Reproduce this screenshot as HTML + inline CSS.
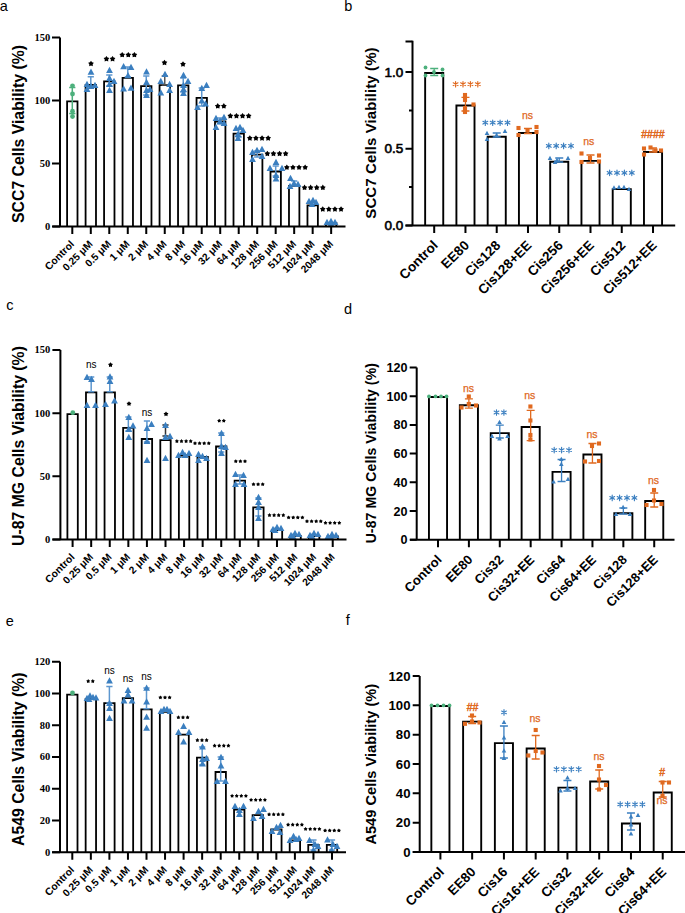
<!DOCTYPE html>
<html><head><meta charset="utf-8"><style>
html,body{margin:0;padding:0;background:#fff;width:685px;height:913px;overflow:hidden}
svg{display:block}
</style></head><body>
<svg width="685" height="913" viewBox="0 0 685 913">
<rect width="685" height="913" fill="#fff"/>
<path d="M67.10,226.50V101.30H77.50V226.50" fill="none" stroke="#000" stroke-width="1.8"/>
<path d="M85.59,226.50V84.90H95.99V226.50" fill="none" stroke="#000" stroke-width="1.8"/>
<path d="M104.08,226.50V81.40H114.48V226.50" fill="none" stroke="#000" stroke-width="1.8"/>
<path d="M122.57,226.50V77.90H132.97V226.50" fill="none" stroke="#000" stroke-width="1.8"/>
<path d="M141.06,226.50V86.10H151.46V226.50" fill="none" stroke="#000" stroke-width="1.8"/>
<path d="M159.55,226.50V85.20H169.95V226.50" fill="none" stroke="#000" stroke-width="1.8"/>
<path d="M178.04,226.50V85.30H188.44V226.50" fill="none" stroke="#000" stroke-width="1.8"/>
<path d="M196.53,226.50V97.80H206.93V226.50" fill="none" stroke="#000" stroke-width="1.8"/>
<path d="M215.02,226.50V121.50H225.42V226.50" fill="none" stroke="#000" stroke-width="1.8"/>
<path d="M233.51,226.50V133.70H243.91V226.50" fill="none" stroke="#000" stroke-width="1.8"/>
<path d="M252.00,226.50V154.70H262.40V226.50" fill="none" stroke="#000" stroke-width="1.8"/>
<path d="M270.49,226.50V171.50H280.89V226.50" fill="none" stroke="#000" stroke-width="1.8"/>
<path d="M288.98,226.50V186.00H299.38V226.50" fill="none" stroke="#000" stroke-width="1.8"/>
<path d="M307.47,226.50V205.30H317.87V226.50" fill="none" stroke="#000" stroke-width="1.8"/>
<path d="M325.96,226.50V223.00H336.36V226.50" fill="none" stroke="#000" stroke-width="1.8"/>
<path d="M72.30,87.50V113.50M69.20,87.50H75.40M69.20,113.50H75.40" stroke="#4cb07c" stroke-width="1.5" fill="none"/>
<g fill="#4cb07c"><circle cx="72.50" cy="85.80" r="2.40"/><circle cx="72.50" cy="94.00" r="2.40"/><circle cx="72.50" cy="111.20" r="2.40"/><circle cx="72.50" cy="116.50" r="2.40"/></g>
<path d="M90.79,76.80V88.00M87.69,76.80H93.89M87.69,88.00H93.89" stroke="#5d97cf" stroke-width="1.5" fill="none"/>
<g fill="#3b7fc0"><path d="M91.00,68.55L94.40,74.80L87.60,74.80Z"/><path d="M87.00,80.75L90.40,87.00L83.60,87.00Z"/><path d="M91.00,82.75L94.40,89.00L87.60,89.00Z"/><path d="M95.00,81.75L98.40,88.00L91.60,88.00Z"/><path d="M87.00,85.75L90.40,92.00L83.60,92.00Z"/></g>
<path d="M109.28,75.00V86.00M106.18,75.00H112.38M106.18,86.00H112.38" stroke="#5d97cf" stroke-width="1.5" fill="none"/>
<g fill="#3b7fc0"><path d="M109.50,66.75L112.90,73.00L106.10,73.00Z"/><path d="M109.50,74.75L112.90,81.00L106.10,81.00Z"/><path d="M114.00,77.75L117.40,84.00L110.60,84.00Z"/><path d="M109.50,80.75L112.90,87.00L106.10,87.00Z"/><path d="M109.50,86.75L112.90,93.00L106.10,93.00Z"/></g>
<path d="M127.77,67.00V77.00M124.67,67.00H130.87M124.67,77.00H130.87" stroke="#5d97cf" stroke-width="1.5" fill="none"/>
<g fill="#3b7fc0"><path d="M123.60,63.05L127.00,69.30L120.20,69.30Z"/><path d="M131.00,63.75L134.40,70.00L127.60,70.00Z"/><path d="M128.00,72.05L131.40,78.30L124.60,78.30Z"/><path d="M123.60,85.25L127.00,91.50L120.20,91.50Z"/><path d="M131.00,84.45L134.40,90.70L127.60,90.70Z"/></g>
<path d="M146.26,76.00V95.00M143.16,76.00H149.36M143.16,95.00H149.36" stroke="#5d97cf" stroke-width="1.5" fill="none"/>
<g fill="#3b7fc0"><path d="M146.50,68.25L149.90,74.50L143.10,74.50Z"/><path d="M146.50,78.75L149.90,85.00L143.10,85.00Z"/><path d="M146.50,86.75L149.90,93.00L143.10,93.00Z"/><path d="M150.00,85.75L153.40,92.00L146.60,92.00Z"/><path d="M146.50,91.75L149.90,98.00L143.10,98.00Z"/></g>
<path d="M164.75,76.00V85.00M161.65,76.00H167.85M161.65,85.00H167.85" stroke="#555" stroke-width="1.5" fill="none"/>
<g fill="#3b7fc0"><path d="M165.00,70.75L168.40,77.00L161.60,77.00Z"/><path d="M160.80,77.75L164.20,84.00L157.40,84.00Z"/><path d="M169.60,80.75L173.00,87.00L166.20,87.00Z"/><path d="M160.80,89.25L164.20,95.50L157.40,95.50Z"/><path d="M169.60,86.75L173.00,93.00L166.20,93.00Z"/></g>
<path d="M183.24,78.00V92.00M180.14,78.00H186.34M180.14,92.00H186.34" stroke="#5d97cf" stroke-width="1.5" fill="none"/>
<g fill="#3b7fc0"><path d="M183.50,71.75L186.90,78.00L180.10,78.00Z"/><path d="M188.00,77.75L191.40,84.00L184.60,84.00Z"/><path d="M183.50,81.75L186.90,88.00L180.10,88.00Z"/><path d="M183.50,85.75L186.90,92.00L180.10,92.00Z"/><path d="M183.50,89.75L186.90,96.00L180.10,96.00Z"/></g>
<path d="M201.73,88.00V106.00M198.63,88.00H204.83M198.63,106.00H204.83" stroke="#5d97cf" stroke-width="1.5" fill="none"/>
<g fill="#3b7fc0"><path d="M206.50,81.75L209.90,88.00L203.10,88.00Z"/><path d="M201.80,84.75L205.20,91.00L198.40,91.00Z"/><path d="M201.80,97.25L205.20,103.50L198.40,103.50Z"/><path d="M205.50,100.25L208.90,106.50L202.10,106.50Z"/><path d="M197.50,103.75L200.90,110.00L194.10,110.00Z"/></g>
<path d="M220.22,118.00V124.00M217.12,118.00H223.32M217.12,124.00H223.32" stroke="#5d97cf" stroke-width="1.5" fill="none"/>
<g fill="#3b7fc0"><path d="M216.00,114.75L219.40,121.00L212.60,121.00Z"/><path d="M224.00,113.75L227.40,120.00L220.60,120.00Z"/><path d="M220.00,117.75L223.40,124.00L216.60,124.00Z"/><path d="M224.00,119.75L227.40,126.00L220.60,126.00Z"/><path d="M216.00,123.75L219.40,130.00L212.60,130.00Z"/></g>
<path d="M238.71,129.00V137.00M235.61,129.00H241.81M235.61,137.00H241.81" stroke="#5d97cf" stroke-width="1.5" fill="none"/>
<g fill="#3b7fc0"><path d="M236.00,124.75L239.40,131.00L232.60,131.00Z"/><path d="M240.00,123.75L243.40,130.00L236.60,130.00Z"/><path d="M243.00,126.75L246.40,133.00L239.60,133.00Z"/><path d="M238.00,130.75L241.40,137.00L234.60,137.00Z"/><path d="M238.00,134.75L241.40,141.00L234.60,141.00Z"/></g>
<path d="M257.20,151.00V157.00M254.10,151.00H260.30M254.10,157.00H260.30" stroke="#5d97cf" stroke-width="1.5" fill="none"/>
<g fill="#3b7fc0"><path d="M252.50,148.75L255.90,155.00L249.10,155.00Z"/><path d="M257.00,146.75L260.40,153.00L253.60,153.00Z"/><path d="M262.00,145.75L265.40,152.00L258.60,152.00Z"/><path d="M262.00,152.75L265.40,159.00L258.60,159.00Z"/><path d="M252.50,155.75L255.90,162.00L249.10,162.00Z"/></g>
<path d="M275.69,166.00V176.00M272.59,166.00H278.79M272.59,176.00H278.79" stroke="#5d97cf" stroke-width="1.5" fill="none"/>
<g fill="#3b7fc0"><path d="M276.00,158.75L279.40,165.00L272.60,165.00Z"/><path d="M270.00,164.75L273.40,171.00L266.60,171.00Z"/><path d="M282.00,164.75L285.40,171.00L278.60,171.00Z"/><path d="M276.00,171.75L279.40,178.00L272.60,178.00Z"/><path d="M276.00,175.25L279.40,181.50L272.60,181.50Z"/></g>
<path d="M294.18,181.00V186.00M291.08,181.00H297.28M291.08,186.00H297.28" stroke="#5d97cf" stroke-width="1.5" fill="none"/>
<g fill="#3b7fc0"><path d="M290.50,174.75L293.90,181.00L287.10,181.00Z"/><path d="M294.00,179.75L297.40,186.00L290.60,186.00Z"/><path d="M298.00,180.75L301.40,187.00L294.60,187.00Z"/><path d="M290.00,182.75L293.40,189.00L286.60,189.00Z"/></g>
<g fill="#3b7fc0"><path d="M309.00,197.75L312.40,204.00L305.60,204.00Z"/><path d="M313.00,196.75L316.40,203.00L309.60,203.00Z"/><path d="M316.00,198.75L319.40,205.00L312.60,205.00Z"/><path d="M312.00,200.75L315.40,207.00L308.60,207.00Z"/></g>
<g fill="#3b7fc0"><path d="M327.00,218.75L330.40,225.00L323.60,225.00Z"/><path d="M331.00,217.75L334.40,224.00L327.60,224.00Z"/><path d="M335.00,218.75L338.40,225.00L331.60,225.00Z"/><path d="M331.00,220.25L334.40,226.50L327.60,226.50Z"/></g>
<path d="M60.00,37.50V226.50M52.50,226.50H345.50" stroke="#000" stroke-width="2" fill="none" stroke-linecap="butt"/>
<path d="M52.00,226.50H60.00M52.00,163.50H60.00M52.00,100.50H60.00M52.00,37.50H60.00M72.30,226.50V234.00M90.79,226.50V234.00M109.28,226.50V234.00M127.77,226.50V234.00M146.26,226.50V234.00M164.75,226.50V234.00M183.24,226.50V234.00M201.73,226.50V234.00M220.22,226.50V234.00M238.71,226.50V234.00M257.20,226.50V234.00M275.69,226.50V234.00M294.18,226.50V234.00M312.67,226.50V234.00M331.16,226.50V234.00" stroke="#000" stroke-width="2" fill="none"/>
<text x="50.20" y="229.90" text-anchor="end" style="font-family:'Liberation Serif', serif;font-size:10.5px;font-weight:bold;">0</text>
<text x="50.20" y="166.90" text-anchor="end" style="font-family:'Liberation Serif', serif;font-size:10.5px;font-weight:bold;">50</text>
<text x="50.20" y="103.90" text-anchor="end" style="font-family:'Liberation Serif', serif;font-size:10.5px;font-weight:bold;">100</text>
<text x="50.20" y="40.90" text-anchor="end" style="font-family:'Liberation Serif', serif;font-size:10.5px;font-weight:bold;">150</text>
<text transform="translate(24.00,134.00) rotate(-90)" text-anchor="middle" style="font-family:'Liberation Sans', sans-serif;font-size:15.8px;font-weight:bold;">SCC7 Cells Viability (%)</text>
<text transform="translate(74.90,244.80) rotate(-45)" text-anchor="end" style="font-family:'Liberation Sans', sans-serif;font-size:10.3px;font-weight:bold;">Control</text>
<text transform="translate(93.39,244.80) rotate(-45)" text-anchor="end" style="font-family:'Liberation Sans', sans-serif;font-size:10.3px;font-weight:bold;">0.25 μM</text>
<text transform="translate(111.88,244.80) rotate(-45)" text-anchor="end" style="font-family:'Liberation Sans', sans-serif;font-size:10.3px;font-weight:bold;">0.5 μM</text>
<text transform="translate(130.37,244.80) rotate(-45)" text-anchor="end" style="font-family:'Liberation Sans', sans-serif;font-size:10.3px;font-weight:bold;">1 μM</text>
<text transform="translate(148.86,244.80) rotate(-45)" text-anchor="end" style="font-family:'Liberation Sans', sans-serif;font-size:10.3px;font-weight:bold;">2 μM</text>
<text transform="translate(167.35,244.80) rotate(-45)" text-anchor="end" style="font-family:'Liberation Sans', sans-serif;font-size:10.3px;font-weight:bold;">4 μM</text>
<text transform="translate(185.84,244.80) rotate(-45)" text-anchor="end" style="font-family:'Liberation Sans', sans-serif;font-size:10.3px;font-weight:bold;">8 μM</text>
<text transform="translate(204.33,244.80) rotate(-45)" text-anchor="end" style="font-family:'Liberation Sans', sans-serif;font-size:10.3px;font-weight:bold;">16 μM</text>
<text transform="translate(222.82,244.80) rotate(-45)" text-anchor="end" style="font-family:'Liberation Sans', sans-serif;font-size:10.3px;font-weight:bold;">32 μM</text>
<text transform="translate(241.31,244.80) rotate(-45)" text-anchor="end" style="font-family:'Liberation Sans', sans-serif;font-size:10.3px;font-weight:bold;">64 μM</text>
<text transform="translate(259.80,244.80) rotate(-45)" text-anchor="end" style="font-family:'Liberation Sans', sans-serif;font-size:10.3px;font-weight:bold;">128 μM</text>
<text transform="translate(278.29,244.80) rotate(-45)" text-anchor="end" style="font-family:'Liberation Sans', sans-serif;font-size:10.3px;font-weight:bold;">256 μM</text>
<text transform="translate(296.78,244.80) rotate(-45)" text-anchor="end" style="font-family:'Liberation Sans', sans-serif;font-size:10.3px;font-weight:bold;">512 μM</text>
<text transform="translate(315.27,244.80) rotate(-45)" text-anchor="end" style="font-family:'Liberation Sans', sans-serif;font-size:10.3px;font-weight:bold;">1024 μM</text>
<text transform="translate(333.76,244.80) rotate(-45)" text-anchor="end" style="font-family:'Liberation Sans', sans-serif;font-size:10.3px;font-weight:bold;">2048 μM</text>
<path d="M91.00,60.70L92.06,62.24L93.85,62.77L92.71,64.26L92.76,66.13L91.00,65.50L89.24,66.13L89.29,64.26L88.15,62.77L89.94,62.24Z" fill="#000"/>
<path d="M106.45,56.00L107.51,57.54L109.30,58.07L108.16,59.56L108.21,61.43L106.45,60.80L104.69,61.43L104.74,59.56L103.60,58.07L105.39,57.54ZM112.55,56.00L113.61,57.54L115.40,58.07L114.26,59.56L114.31,61.43L112.55,60.80L110.79,61.43L110.84,59.56L109.70,58.07L111.49,57.54Z" fill="#000"/>
<path d="M122.20,51.90L123.26,53.44L125.05,53.97L123.91,55.46L123.96,57.33L122.20,56.70L120.44,57.33L120.49,55.46L119.35,53.97L121.14,53.44ZM128.30,51.90L129.36,53.44L131.15,53.97L130.01,55.46L130.06,57.33L128.30,56.70L126.54,57.33L126.59,55.46L125.45,53.97L127.24,53.44ZM134.40,51.90L135.46,53.44L137.25,53.97L136.11,55.46L136.16,57.33L134.40,56.70L132.64,57.33L132.69,55.46L131.55,53.97L133.34,53.44Z" fill="#000"/>
<path d="M164.50,59.80L165.56,61.34L167.35,61.87L166.21,63.36L166.26,65.23L164.50,64.60L162.74,65.23L162.79,63.36L161.65,61.87L163.44,61.34Z" fill="#000"/>
<path d="M183.00,61.30L184.06,62.84L185.85,63.37L184.71,64.86L184.76,66.73L183.00,66.10L181.24,66.73L181.29,64.86L180.15,63.37L181.94,62.84Z" fill="#000"/>
<path d="M217.75,103.10L218.81,104.64L220.60,105.17L219.46,106.66L219.51,108.53L217.75,107.90L215.99,108.53L216.04,106.66L214.90,105.17L216.69,104.64ZM223.85,103.10L224.91,104.64L226.70,105.17L225.56,106.66L225.61,108.53L223.85,107.90L222.09,108.53L222.14,106.66L221.00,105.17L222.79,104.64Z" fill="#000"/>
<path d="M230.35,113.00L231.41,114.54L233.20,115.07L232.06,116.56L232.11,118.43L230.35,117.80L228.59,118.43L228.64,116.56L227.50,115.07L229.29,114.54ZM236.45,113.00L237.51,114.54L239.30,115.07L238.16,116.56L238.21,118.43L236.45,117.80L234.69,118.43L234.74,116.56L233.60,115.07L235.39,114.54ZM242.55,113.00L243.61,114.54L245.40,115.07L244.26,116.56L244.31,118.43L242.55,117.80L240.79,118.43L240.84,116.56L239.70,115.07L241.49,114.54ZM248.65,113.00L249.71,114.54L251.50,115.07L250.36,116.56L250.41,118.43L248.65,117.80L246.89,118.43L246.94,116.56L245.80,115.07L247.59,114.54Z" fill="#000"/>
<path d="M249.85,135.20L250.91,136.74L252.70,137.27L251.56,138.76L251.61,140.63L249.85,140.00L248.09,140.63L248.14,138.76L247.00,137.27L248.79,136.74ZM255.95,135.20L257.01,136.74L258.80,137.27L257.66,138.76L257.71,140.63L255.95,140.00L254.19,140.63L254.24,138.76L253.10,137.27L254.89,136.74ZM262.05,135.20L263.11,136.74L264.90,137.27L263.76,138.76L263.81,140.63L262.05,140.00L260.29,140.63L260.34,138.76L259.20,137.27L260.99,136.74ZM268.15,135.20L269.21,136.74L271.00,137.27L269.86,138.76L269.91,140.63L268.15,140.00L266.39,140.63L266.44,138.76L265.30,137.27L267.09,136.74Z" fill="#000"/>
<path d="M267.35,150.70L268.41,152.24L270.20,152.77L269.06,154.26L269.11,156.13L267.35,155.50L265.59,156.13L265.64,154.26L264.50,152.77L266.29,152.24ZM273.45,150.70L274.51,152.24L276.30,152.77L275.16,154.26L275.21,156.13L273.45,155.50L271.69,156.13L271.74,154.26L270.60,152.77L272.39,152.24ZM279.55,150.70L280.61,152.24L282.40,152.77L281.26,154.26L281.31,156.13L279.55,155.50L277.79,156.13L277.84,154.26L276.70,152.77L278.49,152.24ZM285.65,150.70L286.71,152.24L288.50,152.77L287.36,154.26L287.41,156.13L285.65,155.50L283.89,156.13L283.94,154.26L282.80,152.77L284.59,152.24Z" fill="#000"/>
<path d="M286.85,164.40L287.91,165.94L289.70,166.47L288.56,167.96L288.61,169.83L286.85,169.20L285.09,169.83L285.14,167.96L284.00,166.47L285.79,165.94ZM292.95,164.40L294.01,165.94L295.80,166.47L294.66,167.96L294.71,169.83L292.95,169.20L291.19,169.83L291.24,167.96L290.10,166.47L291.89,165.94ZM299.05,164.40L300.11,165.94L301.90,166.47L300.76,167.96L300.81,169.83L299.05,169.20L297.29,169.83L297.34,167.96L296.20,166.47L297.99,165.94ZM305.15,164.40L306.21,165.94L308.00,166.47L306.86,167.96L306.91,169.83L305.15,169.20L303.39,169.83L303.44,167.96L302.30,166.47L304.09,165.94Z" fill="#000"/>
<path d="M304.55,184.60L305.61,186.14L307.40,186.67L306.26,188.16L306.31,190.03L304.55,189.40L302.79,190.03L302.84,188.16L301.70,186.67L303.49,186.14ZM310.65,184.60L311.71,186.14L313.50,186.67L312.36,188.16L312.41,190.03L310.65,189.40L308.89,190.03L308.94,188.16L307.80,186.67L309.59,186.14ZM316.75,184.60L317.81,186.14L319.60,186.67L318.46,188.16L318.51,190.03L316.75,189.40L314.99,190.03L315.04,188.16L313.90,186.67L315.69,186.14ZM322.85,184.60L323.91,186.14L325.70,186.67L324.56,188.16L324.61,190.03L322.85,189.40L321.09,190.03L321.14,188.16L320.00,186.67L321.79,186.14Z" fill="#000"/>
<path d="M322.75,206.20L323.81,207.74L325.60,208.27L324.46,209.76L324.51,211.63L322.75,211.00L320.99,211.63L321.04,209.76L319.90,208.27L321.69,207.74ZM328.85,206.20L329.91,207.74L331.70,208.27L330.56,209.76L330.61,211.63L328.85,211.00L327.09,211.63L327.14,209.76L326.00,208.27L327.79,207.74ZM334.95,206.20L336.01,207.74L337.80,208.27L336.66,209.76L336.71,211.63L334.95,211.00L333.19,211.63L333.24,209.76L332.10,208.27L333.89,207.74ZM341.05,206.20L342.11,207.74L343.90,208.27L342.76,209.76L342.81,211.63L341.05,211.00L339.29,211.63L339.34,209.76L338.20,208.27L339.99,207.74Z" fill="#000"/>
<path d="M425.15,225.40V73.05H443.25V225.40" fill="none" stroke="#000" stroke-width="1.9"/>
<path d="M456.41,225.40V105.55H474.51V225.40" fill="none" stroke="#000" stroke-width="1.9"/>
<path d="M487.67,225.40V136.75H505.77V225.40" fill="none" stroke="#000" stroke-width="1.9"/>
<path d="M518.93,225.40V132.95H537.03V225.40" fill="none" stroke="#000" stroke-width="1.9"/>
<path d="M550.19,225.40V161.75H568.29V225.40" fill="none" stroke="#000" stroke-width="1.9"/>
<path d="M581.45,225.40V160.85H599.55V225.40" fill="none" stroke="#000" stroke-width="1.9"/>
<path d="M612.71,225.40V189.15H630.81V225.40" fill="none" stroke="#000" stroke-width="1.9"/>
<path d="M643.97,225.40V152.05H662.07V225.40" fill="none" stroke="#000" stroke-width="1.9"/>
<path d="M434.20,68.50V75.50M430.20,68.50H438.20M430.20,75.50H438.20" stroke="#4cb07c" stroke-width="1.3" fill="none"/>
<g fill="#4cb07c"><circle cx="425.50" cy="67.50" r="1.90"/><circle cx="442.50" cy="69.50" r="1.90"/><circle cx="425.50" cy="75.50" r="1.90"/><circle cx="442.50" cy="75.50" r="1.90"/><circle cx="434.00" cy="72.00" r="1.90"/></g>
<path d="M465.46,97.30V111.00M461.46,97.30H469.46M461.46,111.00H469.46" stroke="#e0691f" stroke-width="1.3" fill="none"/>
<g fill="#e0691f"><rect x="462.95" y="92.95" width="4.10" height="4.10"/><rect x="462.95" y="97.95" width="4.10" height="4.10"/><rect x="471.45" y="102.45" width="4.10" height="4.10"/><rect x="462.95" y="105.95" width="4.10" height="4.10"/><rect x="462.95" y="109.95" width="4.10" height="4.10"/></g>
<path d="M496.72,133.00V137.00M492.72,133.00H500.72M492.72,137.00H500.72" stroke="#3b7fc0" stroke-width="1.3" fill="none"/>
<g fill="#3b7fc0"><path d="M487.00,130.80L489.30,135.03L484.70,135.03Z"/><path d="M496.50,132.80L498.80,137.03L494.20,137.03Z"/><path d="M505.00,128.80L507.30,133.03L502.70,133.03Z"/><path d="M487.00,136.80L489.30,141.03L484.70,141.03Z"/></g>
<path d="M527.98,128.50V133.50M523.98,128.50H531.98M523.98,133.50H531.98" stroke="#e0691f" stroke-width="1.3" fill="none"/>
<g fill="#e0691f"><rect x="516.45" y="125.95" width="4.10" height="4.10"/><rect x="534.45" y="124.95" width="4.10" height="4.10"/><rect x="516.45" y="132.95" width="4.10" height="4.10"/><rect x="534.45" y="129.95" width="4.10" height="4.10"/><rect x="525.45" y="128.45" width="4.10" height="4.10"/></g>
<path d="M559.24,158.00V162.00M555.24,158.00H563.24M555.24,162.00H563.24" stroke="#3b7fc0" stroke-width="1.3" fill="none"/>
<g fill="#3b7fc0"><path d="M550.00,155.80L552.30,160.03L547.70,160.03Z"/><path d="M557.00,157.80L559.30,162.03L554.70,162.03Z"/><path d="M568.00,155.80L570.30,160.03L565.70,160.03Z"/><path d="M555.00,159.80L557.30,164.03L552.70,164.03Z"/></g>
<path d="M590.50,155.00V163.00M586.50,155.00H594.50M586.50,163.00H594.50" stroke="#e0691f" stroke-width="1.3" fill="none"/>
<g fill="#e0691f"><rect x="579.45" y="151.45" width="4.10" height="4.10"/><rect x="596.95" y="153.45" width="4.10" height="4.10"/><rect x="579.45" y="159.95" width="4.10" height="4.10"/><rect x="596.95" y="159.45" width="4.10" height="4.10"/><rect x="587.95" y="155.95" width="4.10" height="4.10"/></g>
<g fill="#3b7fc0"><path d="M614.00,185.30L616.30,189.53L611.70,189.53Z"/><path d="M619.00,184.80L621.30,189.03L616.70,189.03Z"/><path d="M624.00,184.80L626.30,189.03L621.70,189.03Z"/><path d="M629.00,186.80L631.30,191.03L626.70,191.03Z"/></g>
<path d="M653.02,148.00V152.00M649.02,148.00H657.02M649.02,152.00H657.02" stroke="#e0691f" stroke-width="1.3" fill="none"/>
<g fill="#e0691f"><rect x="641.95" y="146.45" width="4.10" height="4.10"/><rect x="641.95" y="152.45" width="4.10" height="4.10"/><rect x="648.45" y="145.45" width="4.10" height="4.10"/><rect x="653.45" y="148.45" width="4.10" height="4.10"/><rect x="658.95" y="148.45" width="4.10" height="4.10"/></g>
<path d="M412.50,40.80V225.40M405.50,225.40H675.20" stroke="#000" stroke-width="2" fill="none" stroke-linecap="butt"/>
<path d="M405.50,225.40H412.50M409.00,187.07H412.50M405.50,148.75H412.50M409.00,110.42H412.50M405.50,72.10H412.50M405.50,41.44H412.50M434.20,225.40V232.90M465.46,225.40V232.90M496.72,225.40V232.90M527.98,225.40V232.90M559.24,225.40V232.90M590.50,225.40V232.90M621.76,225.40V232.90M653.02,225.40V232.90" stroke="#000" stroke-width="2" fill="none"/>
<text x="403.20" y="229.90" text-anchor="end" style="font-family:'Liberation Sans', sans-serif;font-size:13.5px;" stroke="#000" stroke-width="0.6">0.0</text>
<text x="403.20" y="153.25" text-anchor="end" style="font-family:'Liberation Sans', sans-serif;font-size:13.5px;" stroke="#000" stroke-width="0.6">0.5</text>
<text x="403.20" y="76.60" text-anchor="end" style="font-family:'Liberation Sans', sans-serif;font-size:13.5px;" stroke="#000" stroke-width="0.6">1.0</text>
<text transform="translate(375.50,133.00) rotate(-90)" text-anchor="middle" style="font-family:'Liberation Sans', sans-serif;font-size:15px;font-weight:bold;letter-spacing:0.1px;">SCC7 Cells Viability (%)</text>
<text transform="translate(438.70,246.20) rotate(-45)" text-anchor="end" style="font-family:'Liberation Sans', sans-serif;font-size:13.5px;font-weight:bold;">Control</text>
<text transform="translate(469.96,246.20) rotate(-45)" text-anchor="end" style="font-family:'Liberation Sans', sans-serif;font-size:13.5px;font-weight:bold;">EE80</text>
<text transform="translate(501.22,246.20) rotate(-45)" text-anchor="end" style="font-family:'Liberation Sans', sans-serif;font-size:13.5px;font-weight:bold;">Cis128</text>
<text transform="translate(532.48,246.20) rotate(-45)" text-anchor="end" style="font-family:'Liberation Sans', sans-serif;font-size:13.5px;font-weight:bold;">Cis128+EE</text>
<text transform="translate(563.74,246.20) rotate(-45)" text-anchor="end" style="font-family:'Liberation Sans', sans-serif;font-size:13.5px;font-weight:bold;">Cis256</text>
<text transform="translate(595.00,246.20) rotate(-45)" text-anchor="end" style="font-family:'Liberation Sans', sans-serif;font-size:13.5px;font-weight:bold;">Cis256+EE</text>
<text transform="translate(626.26,246.20) rotate(-45)" text-anchor="end" style="font-family:'Liberation Sans', sans-serif;font-size:13.5px;font-weight:bold;">Cis512</text>
<text transform="translate(657.52,246.20) rotate(-45)" text-anchor="end" style="font-family:'Liberation Sans', sans-serif;font-size:13.5px;font-weight:bold;">Cis512+EE</text>
<path d="M455.60,86.95L455.60,81.45M457.98,85.58L453.22,82.83M453.22,85.58L457.98,82.83M463.00,86.95L463.00,81.45M465.38,85.58L460.62,82.83M460.62,85.58L465.38,82.83M470.40,86.95L470.40,81.45M472.78,85.58L468.02,82.83M468.02,85.58L472.78,82.83M477.80,86.95L477.80,81.45M480.18,85.58L475.42,82.83M475.42,85.58L480.18,82.83" stroke="#e0691f" stroke-width="1.15" stroke-linecap="round" fill="none"/>
<path d="M485.30,125.45L485.30,119.95M487.68,124.08L482.92,121.33M482.92,124.08L487.68,121.33M492.70,125.45L492.70,119.95M495.08,124.08L490.32,121.33M490.32,124.08L495.08,121.33M500.10,125.45L500.10,119.95M502.48,124.08L497.72,121.33M497.72,124.08L502.48,121.33M507.50,125.45L507.50,119.95M509.88,124.08L505.12,121.33M505.12,124.08L509.88,121.33" stroke="#3b7fc0" stroke-width="1.15" stroke-linecap="round" fill="none"/>
<text x="527.50" y="119.40" text-anchor="middle" fill="#e0691f" stroke="#e0691f" stroke-width="0.25" style="font-family:'Liberation Sans', sans-serif;font-size:10.5px;">ns</text>
<path d="M548.80,148.65L548.80,143.15M551.18,147.28L546.42,144.53M546.42,147.28L551.18,144.53M556.20,148.65L556.20,143.15M558.58,147.28L553.82,144.53M553.82,147.28L558.58,144.53M563.60,148.65L563.60,143.15M565.98,147.28L561.22,144.53M561.22,147.28L565.98,144.53M571.00,148.65L571.00,143.15M573.38,147.28L568.62,144.53M568.62,147.28L573.38,144.53" stroke="#3b7fc0" stroke-width="1.15" stroke-linecap="round" fill="none"/>
<text x="588.80" y="145.30" text-anchor="middle" fill="#e0691f" stroke="#e0691f" stroke-width="0.25" style="font-family:'Liberation Sans', sans-serif;font-size:10.5px;">ns</text>
<path d="M609.60,175.55L609.60,170.05M611.98,174.18L607.22,171.43M607.22,174.18L611.98,171.43M617.00,175.55L617.00,170.05M619.38,174.18L614.62,171.43M614.62,174.18L619.38,171.43M624.40,175.55L624.40,170.05M626.78,174.18L622.02,171.43M622.02,174.18L626.78,171.43M631.80,175.55L631.80,170.05M634.18,174.18L629.42,171.43M629.42,174.18L634.18,171.43" stroke="#3b7fc0" stroke-width="1.15" stroke-linecap="round" fill="none"/>
<text x="652.90" y="138.00" text-anchor="middle" fill="#e0691f" stroke="#e0691f" stroke-width="0.45" style="font-family:'Liberation Sans', sans-serif;font-size:10.5px;">####</text>
<path d="M67.40,539.50V414.20H77.80V539.50" fill="none" stroke="#000" stroke-width="1.8"/>
<path d="M85.98,539.50V392.30H96.38V539.50" fill="none" stroke="#000" stroke-width="1.8"/>
<path d="M104.56,539.50V392.30H114.96V539.50" fill="none" stroke="#000" stroke-width="1.8"/>
<path d="M123.14,539.50V427.90H133.54V539.50" fill="none" stroke="#000" stroke-width="1.8"/>
<path d="M141.72,539.50V439.00H152.12V539.50" fill="none" stroke="#000" stroke-width="1.8"/>
<path d="M160.30,539.50V440.10H170.70V539.50" fill="none" stroke="#000" stroke-width="1.8"/>
<path d="M178.88,539.50V455.50H189.28V539.50" fill="none" stroke="#000" stroke-width="1.8"/>
<path d="M197.46,539.50V456.90H207.86V539.50" fill="none" stroke="#000" stroke-width="1.8"/>
<path d="M216.04,539.50V446.50H226.44V539.50" fill="none" stroke="#000" stroke-width="1.8"/>
<path d="M234.62,539.50V480.70H245.02V539.50" fill="none" stroke="#000" stroke-width="1.8"/>
<path d="M253.20,539.50V507.40H263.60V539.50" fill="none" stroke="#000" stroke-width="1.8"/>
<path d="M271.78,539.50V530.10H282.18V539.50" fill="none" stroke="#000" stroke-width="1.8"/>
<path d="M290.36,539.50V535.80H300.76V539.50" fill="none" stroke="#000" stroke-width="1.8"/>
<path d="M308.94,539.50V536.00H319.34V539.50" fill="none" stroke="#000" stroke-width="1.8"/>
<path d="M327.52,539.50V536.50H337.92V539.50" fill="none" stroke="#000" stroke-width="1.8"/>
<g fill="#4cb07c"><circle cx="72.80" cy="412.70" r="2.40"/></g>
<path d="M91.18,377.10V391.80M88.08,377.10H94.28M88.08,391.80H94.28" stroke="#5d97cf" stroke-width="1.5" fill="none"/>
<g fill="#3b7fc0"><path d="M87.00,373.75L90.40,380.00L83.60,380.00Z"/><path d="M91.50,375.75L94.90,382.00L88.10,382.00Z"/><path d="M87.00,401.75L90.40,408.00L83.60,408.00Z"/><path d="M95.50,401.75L98.90,408.00L92.10,408.00Z"/></g>
<path d="M109.76,377.00V391.80M106.66,377.00H112.86M106.66,391.80H112.86" stroke="#5d97cf" stroke-width="1.5" fill="none"/>
<g fill="#3b7fc0"><path d="M110.00,373.25L113.40,379.50L106.60,379.50Z"/><path d="M110.00,377.75L113.40,384.00L106.60,384.00Z"/><path d="M105.50,400.75L108.90,407.00L102.10,407.00Z"/><path d="M114.50,397.25L117.90,403.50L111.10,403.50Z"/></g>
<path d="M128.34,417.00V431.00M125.24,417.00H131.44M125.24,431.00H131.44" stroke="#5d97cf" stroke-width="1.5" fill="none"/>
<g fill="#3b7fc0"><path d="M128.80,413.75L132.20,420.00L125.40,420.00Z"/><path d="M133.00,422.25L136.40,428.50L129.60,428.50Z"/><path d="M128.80,425.75L132.20,432.00L125.40,432.00Z"/><path d="M128.80,433.75L132.20,440.00L125.40,440.00Z"/></g>
<path d="M146.92,421.00V442.00M143.82,421.00H150.02M143.82,442.00H150.02" stroke="#5d97cf" stroke-width="1.5" fill="none"/>
<g fill="#3b7fc0"><path d="M151.50,420.75L154.90,427.00L148.10,427.00Z"/><path d="M147.00,424.75L150.40,431.00L143.60,431.00Z"/><path d="M147.00,437.75L150.40,444.00L143.60,444.00Z"/><path d="M147.00,456.75L150.40,463.00L143.60,463.00Z"/></g>
<path d="M165.50,425.00V436.00M162.40,425.00H168.60M162.40,436.00H168.60" stroke="#333" stroke-width="1.5" fill="none"/>
<g fill="#3b7fc0"><path d="M165.50,421.75L168.90,428.00L162.10,428.00Z"/><path d="M165.50,433.75L168.90,440.00L162.10,440.00Z"/><path d="M170.00,432.75L173.40,439.00L166.60,439.00Z"/><path d="M165.50,454.75L168.90,461.00L162.10,461.00Z"/></g>
<g fill="#3b7fc0"><path d="M178.50,451.75L181.90,458.00L175.10,458.00Z"/><path d="M182.50,448.75L185.90,455.00L179.10,455.00Z"/><path d="M189.00,449.75L192.40,456.00L185.60,456.00Z"/><path d="M185.00,451.75L188.40,458.00L181.60,458.00Z"/></g>
<g fill="#3b7fc0"><path d="M198.50,450.75L201.90,457.00L195.10,457.00Z"/><path d="M202.50,452.75L205.90,459.00L199.10,459.00Z"/><path d="M206.50,454.75L209.90,461.00L203.10,461.00Z"/><path d="M198.50,456.75L201.90,463.00L195.10,463.00Z"/></g>
<path d="M221.24,433.00V452.00M218.14,433.00H224.34M218.14,452.00H224.34" stroke="#5d97cf" stroke-width="1.5" fill="none"/>
<g fill="#3b7fc0"><path d="M221.50,429.75L224.90,436.00L218.10,436.00Z"/><path d="M221.50,442.75L224.90,449.00L218.10,449.00Z"/><path d="M225.50,443.75L228.90,450.00L222.10,450.00Z"/><path d="M221.50,449.75L224.90,456.00L218.10,456.00Z"/></g>
<path d="M239.82,475.00V484.00M236.72,475.00H242.92M236.72,484.00H242.92" stroke="#5d97cf" stroke-width="1.5" fill="none"/>
<g fill="#3b7fc0"><path d="M235.50,470.75L238.90,477.00L232.10,477.00Z"/><path d="M243.50,471.75L246.90,478.00L240.10,478.00Z"/><path d="M235.50,480.75L238.90,487.00L232.10,487.00Z"/><path d="M244.00,480.75L247.40,487.00L240.60,487.00Z"/></g>
<path d="M258.40,498.00V516.00M255.30,498.00H261.50M255.30,516.00H261.50" stroke="#5d97cf" stroke-width="1.5" fill="none"/>
<g fill="#3b7fc0"><path d="M258.50,493.75L261.90,500.00L255.10,500.00Z"/><path d="M258.50,498.75L261.90,505.00L255.10,505.00Z"/><path d="M258.50,503.75L261.90,510.00L255.10,510.00Z"/><path d="M258.50,514.75L261.90,521.00L255.10,521.00Z"/></g>
<g fill="#3b7fc0"><path d="M273.00,525.75L276.40,532.00L269.60,532.00Z"/><path d="M277.00,523.75L280.40,530.00L273.60,530.00Z"/><path d="M281.00,524.75L284.40,531.00L277.60,531.00Z"/><path d="M275.00,526.75L278.40,533.00L271.60,533.00Z"/></g>
<g fill="#3b7fc0"><path d="M291.00,531.75L294.40,538.00L287.60,538.00Z"/><path d="M295.00,529.75L298.40,536.00L291.60,536.00Z"/><path d="M299.00,530.75L302.40,537.00L295.60,537.00Z"/><path d="M293.00,532.75L296.40,539.00L289.60,539.00Z"/></g>
<g fill="#3b7fc0"><path d="M310.00,531.75L313.40,538.00L306.60,538.00Z"/><path d="M314.00,529.75L317.40,536.00L310.60,536.00Z"/><path d="M318.00,530.75L321.40,537.00L314.60,537.00Z"/><path d="M312.00,532.75L315.40,539.00L308.60,539.00Z"/></g>
<g fill="#3b7fc0"><path d="M328.00,532.75L331.40,539.00L324.60,539.00Z"/><path d="M332.00,530.75L335.40,537.00L328.60,537.00Z"/><path d="M336.00,531.75L339.40,538.00L332.60,538.00Z"/><path d="M331.00,533.75L334.40,540.00L327.60,540.00Z"/></g>
<path d="M60.40,350.00V539.50M52.40,539.50H346.50" stroke="#000" stroke-width="2" fill="none" stroke-linecap="butt"/>
<path d="M52.40,539.50H60.40M52.40,476.35H60.40M52.40,413.20H60.40M52.40,350.05H60.40M72.60,539.50V547.00M91.18,539.50V547.00M109.76,539.50V547.00M128.34,539.50V547.00M146.92,539.50V547.00M165.50,539.50V547.00M184.08,539.50V547.00M202.66,539.50V547.00M221.24,539.50V547.00M239.82,539.50V547.00M258.40,539.50V547.00M276.98,539.50V547.00M295.56,539.50V547.00M314.14,539.50V547.00M332.72,539.50V547.00" stroke="#000" stroke-width="2" fill="none"/>
<text x="50.20" y="542.90" text-anchor="end" style="font-family:'Liberation Serif', serif;font-size:10.5px;font-weight:bold;">0</text>
<text x="50.20" y="479.75" text-anchor="end" style="font-family:'Liberation Serif', serif;font-size:10.5px;font-weight:bold;">50</text>
<text x="50.20" y="416.60" text-anchor="end" style="font-family:'Liberation Serif', serif;font-size:10.5px;font-weight:bold;">100</text>
<text x="50.20" y="353.45" text-anchor="end" style="font-family:'Liberation Serif', serif;font-size:10.5px;font-weight:bold;">150</text>
<text transform="translate(24.00,446.00) rotate(-90)" text-anchor="middle" style="font-family:'Liberation Sans', sans-serif;font-size:15.8px;font-weight:bold;">U-87 MG Cells Viability (%)</text>
<text transform="translate(75.20,557.80) rotate(-45)" text-anchor="end" style="font-family:'Liberation Sans', sans-serif;font-size:10.3px;font-weight:bold;">Control</text>
<text transform="translate(93.78,557.80) rotate(-45)" text-anchor="end" style="font-family:'Liberation Sans', sans-serif;font-size:10.3px;font-weight:bold;">0.25 μM</text>
<text transform="translate(112.36,557.80) rotate(-45)" text-anchor="end" style="font-family:'Liberation Sans', sans-serif;font-size:10.3px;font-weight:bold;">0.5 μM</text>
<text transform="translate(130.94,557.80) rotate(-45)" text-anchor="end" style="font-family:'Liberation Sans', sans-serif;font-size:10.3px;font-weight:bold;">1 μM</text>
<text transform="translate(149.52,557.80) rotate(-45)" text-anchor="end" style="font-family:'Liberation Sans', sans-serif;font-size:10.3px;font-weight:bold;">2 μM</text>
<text transform="translate(168.10,557.80) rotate(-45)" text-anchor="end" style="font-family:'Liberation Sans', sans-serif;font-size:10.3px;font-weight:bold;">4 μM</text>
<text transform="translate(186.68,557.80) rotate(-45)" text-anchor="end" style="font-family:'Liberation Sans', sans-serif;font-size:10.3px;font-weight:bold;">8 μM</text>
<text transform="translate(205.26,557.80) rotate(-45)" text-anchor="end" style="font-family:'Liberation Sans', sans-serif;font-size:10.3px;font-weight:bold;">16 μM</text>
<text transform="translate(223.84,557.80) rotate(-45)" text-anchor="end" style="font-family:'Liberation Sans', sans-serif;font-size:10.3px;font-weight:bold;">32 μM</text>
<text transform="translate(242.42,557.80) rotate(-45)" text-anchor="end" style="font-family:'Liberation Sans', sans-serif;font-size:10.3px;font-weight:bold;">64 μM</text>
<text transform="translate(261.00,557.80) rotate(-45)" text-anchor="end" style="font-family:'Liberation Sans', sans-serif;font-size:10.3px;font-weight:bold;">128 μM</text>
<text transform="translate(279.58,557.80) rotate(-45)" text-anchor="end" style="font-family:'Liberation Sans', sans-serif;font-size:10.3px;font-weight:bold;">256 μM</text>
<text transform="translate(298.16,557.80) rotate(-45)" text-anchor="end" style="font-family:'Liberation Sans', sans-serif;font-size:10.3px;font-weight:bold;">512 μM</text>
<text transform="translate(316.74,557.80) rotate(-45)" text-anchor="end" style="font-family:'Liberation Sans', sans-serif;font-size:10.3px;font-weight:bold;">1024 μM</text>
<text transform="translate(335.32,557.80) rotate(-45)" text-anchor="end" style="font-family:'Liberation Sans', sans-serif;font-size:10.3px;font-weight:bold;">2048 μM</text>
<text x="91.20" y="367.80" text-anchor="middle" fill="#000" stroke="#000" stroke-width="0" style="font-family:'Liberation Sans', sans-serif;font-size:10px;">ns</text>
<path d="M110.50,362.26L111.42,363.60L112.97,364.06L111.98,365.34L112.03,366.96L110.50,366.42L108.97,366.96L109.02,365.34L108.03,364.06L109.58,363.60Z" fill="#000"/>
<path d="M129.00,401.16L129.92,402.50L131.47,402.96L130.48,404.24L130.53,405.86L129.00,405.32L127.47,405.86L127.52,404.24L126.53,402.96L128.08,402.50Z" fill="#000"/>
<text x="147.00" y="415.70" text-anchor="middle" fill="#000" stroke="#000" stroke-width="0" style="font-family:'Liberation Sans', sans-serif;font-size:10px;">ns</text>
<path d="M166.00,411.46L166.92,412.80L168.47,413.26L167.48,414.54L167.53,416.16L166.00,415.62L164.47,416.16L164.52,414.54L163.53,413.26L165.08,412.80Z" fill="#000"/>
<path d="M176.90,439.11L177.64,440.19L178.90,440.56L178.10,441.60L178.13,442.91L176.90,442.47L175.67,442.91L175.70,441.60L174.90,440.56L176.16,440.19ZM181.50,439.11L182.24,440.19L183.50,440.56L182.70,441.60L182.73,442.91L181.50,442.47L180.27,442.91L180.30,441.60L179.50,440.56L180.76,440.19ZM186.10,439.11L186.84,440.19L188.10,440.56L187.30,441.60L187.33,442.91L186.10,442.47L184.87,442.91L184.90,441.60L184.10,440.56L185.36,440.19ZM190.70,439.11L191.44,440.19L192.70,440.56L191.90,441.60L191.93,442.91L190.70,442.47L189.47,442.91L189.50,441.60L188.70,440.56L189.96,440.19Z" fill="#000"/>
<path d="M195.00,441.21L195.74,442.29L197.00,442.66L196.20,443.70L196.23,445.01L195.00,444.57L193.77,445.01L193.80,443.70L193.00,442.66L194.26,442.29ZM199.60,441.21L200.34,442.29L201.60,442.66L200.80,443.70L200.83,445.01L199.60,444.57L198.37,445.01L198.40,443.70L197.60,442.66L198.86,442.29ZM204.20,441.21L204.94,442.29L206.20,442.66L205.40,443.70L205.43,445.01L204.20,444.57L202.97,445.01L203.00,443.70L202.20,442.66L203.46,442.29ZM208.80,441.21L209.54,442.29L210.80,442.66L210.00,443.70L210.03,445.01L208.80,444.57L207.57,445.01L207.60,443.70L206.80,442.66L208.06,442.29Z" fill="#000"/>
<path d="M219.20,418.71L219.94,419.79L221.20,420.16L220.40,421.20L220.43,422.51L219.20,422.07L217.97,422.51L218.00,421.20L217.20,420.16L218.46,419.79ZM223.80,418.71L224.54,419.79L225.80,420.16L225.00,421.20L225.03,422.51L223.80,422.07L222.57,422.51L222.60,421.20L221.80,420.16L223.06,419.79Z" fill="#000"/>
<path d="M235.80,459.21L236.54,460.29L237.80,460.66L237.00,461.70L237.03,463.01L235.80,462.57L234.57,463.01L234.60,461.70L233.80,460.66L235.06,460.29ZM240.40,459.21L241.14,460.29L242.40,460.66L241.60,461.70L241.63,463.01L240.40,462.57L239.17,463.01L239.20,461.70L238.40,460.66L239.66,460.29ZM245.00,459.21L245.74,460.29L247.00,460.66L246.20,461.70L246.23,463.01L245.00,462.57L243.77,463.01L243.80,461.70L243.00,460.66L244.26,460.29Z" fill="#000"/>
<path d="M253.50,482.21L254.24,483.29L255.50,483.66L254.70,484.70L254.73,486.01L253.50,485.57L252.27,486.01L252.30,484.70L251.50,483.66L252.76,483.29ZM258.10,482.21L258.84,483.29L260.10,483.66L259.30,484.70L259.33,486.01L258.10,485.57L256.87,486.01L256.90,484.70L256.10,483.66L257.36,483.29ZM262.70,482.21L263.44,483.29L264.70,483.66L263.90,484.70L263.93,486.01L262.70,485.57L261.47,486.01L261.50,484.70L260.70,483.66L261.96,483.29Z" fill="#000"/>
<path d="M269.50,513.11L270.24,514.19L271.50,514.56L270.70,515.60L270.73,516.91L269.50,516.47L268.27,516.91L268.30,515.60L267.50,514.56L268.76,514.19ZM274.10,513.11L274.84,514.19L276.10,514.56L275.30,515.60L275.33,516.91L274.10,516.47L272.87,516.91L272.90,515.60L272.10,514.56L273.36,514.19ZM278.70,513.11L279.44,514.19L280.70,514.56L279.90,515.60L279.93,516.91L278.70,516.47L277.47,516.91L277.50,515.60L276.70,514.56L277.96,514.19ZM283.30,513.11L284.04,514.19L285.30,514.56L284.50,515.60L284.53,516.91L283.30,516.47L282.07,516.91L282.10,515.60L281.30,514.56L282.56,514.19Z" fill="#000"/>
<path d="M288.60,515.41L289.34,516.49L290.60,516.86L289.80,517.90L289.83,519.21L288.60,518.77L287.37,519.21L287.40,517.90L286.60,516.86L287.86,516.49ZM293.20,515.41L293.94,516.49L295.20,516.86L294.40,517.90L294.43,519.21L293.20,518.77L291.97,519.21L292.00,517.90L291.20,516.86L292.46,516.49ZM297.80,515.41L298.54,516.49L299.80,516.86L299.00,517.90L299.03,519.21L297.80,518.77L296.57,519.21L296.60,517.90L295.80,516.86L297.06,516.49ZM302.40,515.41L303.14,516.49L304.40,516.86L303.60,517.90L303.63,519.21L302.40,518.77L301.17,519.21L301.20,517.90L300.40,516.86L301.66,516.49Z" fill="#000"/>
<path d="M307.00,519.21L307.74,520.29L309.00,520.66L308.20,521.70L308.23,523.01L307.00,522.57L305.77,523.01L305.80,521.70L305.00,520.66L306.26,520.29ZM311.60,519.21L312.34,520.29L313.60,520.66L312.80,521.70L312.83,523.01L311.60,522.57L310.37,523.01L310.40,521.70L309.60,520.66L310.86,520.29ZM316.20,519.21L316.94,520.29L318.20,520.66L317.40,521.70L317.43,523.01L316.20,522.57L314.97,523.01L315.00,521.70L314.20,520.66L315.46,520.29ZM320.80,519.21L321.54,520.29L322.80,520.66L322.00,521.70L322.03,523.01L320.80,522.57L319.57,523.01L319.60,521.70L318.80,520.66L320.06,520.29Z" fill="#000"/>
<path d="M325.50,520.81L326.24,521.89L327.50,522.26L326.70,523.30L326.73,524.61L325.50,524.17L324.27,524.61L324.30,523.30L323.50,522.26L324.76,521.89ZM330.10,520.81L330.84,521.89L332.10,522.26L331.30,523.30L331.33,524.61L330.10,524.17L328.87,524.61L328.90,523.30L328.10,522.26L329.36,521.89ZM334.70,520.81L335.44,521.89L336.70,522.26L335.90,523.30L335.93,524.61L334.70,524.17L333.47,524.61L333.50,523.30L332.70,522.26L333.96,521.89ZM339.30,520.81L340.04,521.89L341.30,522.26L340.50,523.30L340.53,524.61L339.30,524.17L338.07,524.61L338.10,523.30L337.30,522.26L338.56,521.89Z" fill="#000"/>
<path d="M428.95,539.70V397.05H447.05V539.70" fill="none" stroke="#000" stroke-width="1.9"/>
<path d="M459.84,539.70V405.25H477.94V539.70" fill="none" stroke="#000" stroke-width="1.9"/>
<path d="M490.73,539.70V433.15H508.83V539.70" fill="none" stroke="#000" stroke-width="1.9"/>
<path d="M521.62,539.70V427.05H539.72V539.70" fill="none" stroke="#000" stroke-width="1.9"/>
<path d="M552.51,539.70V471.85H570.61V539.70" fill="none" stroke="#000" stroke-width="1.9"/>
<path d="M583.40,539.70V454.45H601.50V539.70" fill="none" stroke="#000" stroke-width="1.9"/>
<path d="M614.29,539.70V513.25H632.39V539.70" fill="none" stroke="#000" stroke-width="1.9"/>
<path d="M645.18,539.70V500.95H663.28V539.70" fill="none" stroke="#000" stroke-width="1.9"/>
<g fill="#4cb07c"><circle cx="429.00" cy="396.40" r="1.90"/><circle cx="435.50" cy="396.40" r="1.90"/><circle cx="441.00" cy="396.40" r="1.90"/><circle cx="446.50" cy="396.40" r="1.90"/></g>
<path d="M468.89,398.90V408.20M464.89,398.90H472.89M464.89,408.20H472.89" stroke="#e0691f" stroke-width="1.3" fill="none"/>
<g fill="#e0691f"><rect x="466.75" y="394.45" width="4.10" height="4.10"/><rect x="466.75" y="401.95" width="4.10" height="4.10"/><rect x="459.45" y="405.45" width="4.10" height="4.10"/><rect x="473.95" y="403.45" width="4.10" height="4.10"/></g>
<path d="M499.78,425.10V438.00M495.78,425.10H503.78M495.78,438.00H503.78" stroke="#3b7fc0" stroke-width="1.3" fill="none"/>
<g fill="#3b7fc0"><path d="M499.50,419.80L501.80,424.03L497.20,424.03Z"/><path d="M492.00,433.80L494.30,438.03L489.70,438.03Z"/><path d="M507.50,433.80L509.80,438.03L505.20,438.03Z"/><path d="M499.50,436.30L501.80,440.53L497.20,440.53Z"/></g>
<path d="M530.67,410.40V440.60M526.67,410.40H534.67M526.67,440.60H534.67" stroke="#e0691f" stroke-width="1.3" fill="none"/>
<g fill="#e0691f"><rect x="528.35" y="404.45" width="4.10" height="4.10"/><rect x="528.35" y="418.45" width="4.10" height="4.10"/><rect x="528.35" y="432.95" width="4.10" height="4.10"/><rect x="528.35" y="437.45" width="4.10" height="4.10"/></g>
<path d="M561.56,459.50V481.50M557.56,459.50H565.56M557.56,481.50H565.56" stroke="#3b7fc0" stroke-width="1.3" fill="none"/>
<g fill="#3b7fc0"><path d="M561.30,456.80L563.60,461.03L559.00,461.03Z"/><path d="M561.30,461.80L563.60,466.03L559.00,466.03Z"/><path d="M553.50,479.30L555.80,483.53L551.20,483.53Z"/><path d="M568.00,476.80L570.30,481.03L565.70,481.03Z"/></g>
<path d="M592.45,443.50V463.00M588.45,443.50H596.45M588.45,463.00H596.45" stroke="#e0691f" stroke-width="1.3" fill="none"/>
<g fill="#e0691f"><rect x="589.95" y="443.95" width="4.10" height="4.10"/><rect x="596.95" y="441.45" width="4.10" height="4.10"/><rect x="582.95" y="459.45" width="4.10" height="4.10"/><rect x="596.95" y="458.95" width="4.10" height="4.10"/></g>
<path d="M623.34,508.00V514.00M619.34,508.00H627.34M619.34,514.00H627.34" stroke="#3b7fc0" stroke-width="1.3" fill="none"/>
<g fill="#3b7fc0"><path d="M623.10,504.80L625.40,509.03L620.80,509.03Z"/><path d="M616.00,511.80L618.30,516.03L613.70,516.03Z"/><path d="M630.00,511.80L632.30,516.03L627.70,516.03Z"/></g>
<path d="M654.23,493.00V507.00M650.23,493.00H658.23M650.23,507.00H658.23" stroke="#e0691f" stroke-width="1.3" fill="none"/>
<g fill="#e0691f"><rect x="651.95" y="487.95" width="4.10" height="4.10"/><rect x="651.95" y="498.45" width="4.10" height="4.10"/><rect x="644.45" y="502.95" width="4.10" height="4.10"/><rect x="659.45" y="501.95" width="4.10" height="4.10"/></g>
<path d="M416.70,367.50V539.70M410.00,539.70H674.50" stroke="#000" stroke-width="2" fill="none" stroke-linecap="butt"/>
<path d="M409.70,539.70H416.70M409.70,511.00H416.70M409.70,482.30H416.70M409.70,453.60H416.70M409.70,424.90H416.70M409.70,396.20H416.70M409.70,367.50H416.70M438.00,539.70V547.20M468.89,539.70V547.20M499.78,539.70V547.20M530.67,539.70V547.20M561.56,539.70V547.20M592.45,539.70V547.20M623.34,539.70V547.20M654.23,539.70V547.20" stroke="#000" stroke-width="2" fill="none"/>
<text x="407.50" y="544.20" text-anchor="end" style="font-family:'Liberation Sans', sans-serif;font-size:12.6px;font-weight:bold;">0</text>
<text x="407.50" y="515.50" text-anchor="end" style="font-family:'Liberation Sans', sans-serif;font-size:12.6px;font-weight:bold;">20</text>
<text x="407.50" y="486.80" text-anchor="end" style="font-family:'Liberation Sans', sans-serif;font-size:12.6px;font-weight:bold;">40</text>
<text x="407.50" y="458.10" text-anchor="end" style="font-family:'Liberation Sans', sans-serif;font-size:12.6px;font-weight:bold;">60</text>
<text x="407.50" y="429.40" text-anchor="end" style="font-family:'Liberation Sans', sans-serif;font-size:12.6px;font-weight:bold;">80</text>
<text x="407.50" y="400.70" text-anchor="end" style="font-family:'Liberation Sans', sans-serif;font-size:12.6px;font-weight:bold;">100</text>
<text x="407.50" y="372.00" text-anchor="end" style="font-family:'Liberation Sans', sans-serif;font-size:12.6px;font-weight:bold;">120</text>
<text transform="translate(376.00,453.20) rotate(-90)" text-anchor="middle" style="font-family:'Liberation Sans', sans-serif;font-size:14px;font-weight:bold;letter-spacing:0.12px;">U-87 MG Cells Viability (%)</text>
<text transform="translate(442.50,560.50) rotate(-45)" text-anchor="end" style="font-family:'Liberation Sans', sans-serif;font-size:13px;font-weight:bold;">Control</text>
<text transform="translate(473.39,560.50) rotate(-45)" text-anchor="end" style="font-family:'Liberation Sans', sans-serif;font-size:13px;font-weight:bold;">EE80</text>
<text transform="translate(504.28,560.50) rotate(-45)" text-anchor="end" style="font-family:'Liberation Sans', sans-serif;font-size:13px;font-weight:bold;">Cis32</text>
<text transform="translate(535.17,560.50) rotate(-45)" text-anchor="end" style="font-family:'Liberation Sans', sans-serif;font-size:13px;font-weight:bold;">Cis32+EE</text>
<text transform="translate(566.06,560.50) rotate(-45)" text-anchor="end" style="font-family:'Liberation Sans', sans-serif;font-size:13px;font-weight:bold;">Cis64</text>
<text transform="translate(596.95,560.50) rotate(-45)" text-anchor="end" style="font-family:'Liberation Sans', sans-serif;font-size:13px;font-weight:bold;">Cis64+EE</text>
<text transform="translate(627.84,560.50) rotate(-45)" text-anchor="end" style="font-family:'Liberation Sans', sans-serif;font-size:13px;font-weight:bold;">Cis128</text>
<text transform="translate(658.73,560.50) rotate(-45)" text-anchor="end" style="font-family:'Liberation Sans', sans-serif;font-size:13px;font-weight:bold;">Cis128+EE</text>
<text x="468.50" y="391.80" text-anchor="middle" fill="#e0691f" stroke="#e0691f" stroke-width="0.25" style="font-family:'Liberation Sans', sans-serif;font-size:10.5px;">ns</text>
<path d="M496.50,415.25L496.50,409.75M498.88,413.88L494.12,411.12M494.12,413.88L498.88,411.12M503.90,415.25L503.90,409.75M506.28,413.88L501.52,411.12M501.52,413.88L506.28,411.12" stroke="#3b7fc0" stroke-width="1.15" stroke-linecap="round" fill="none"/>
<text x="529.80" y="399.30" text-anchor="middle" fill="#e0691f" stroke="#e0691f" stroke-width="0.25" style="font-family:'Liberation Sans', sans-serif;font-size:10.5px;">ns</text>
<path d="M554.20,452.85L554.20,447.35M556.58,451.48L551.82,448.73M551.82,451.48L556.58,448.73M561.60,452.85L561.60,447.35M563.98,451.48L559.22,448.73M559.22,451.48L563.98,448.73M569.00,452.85L569.00,447.35M571.38,451.48L566.62,448.73M566.62,451.48L571.38,448.73" stroke="#3b7fc0" stroke-width="1.15" stroke-linecap="round" fill="none"/>
<text x="592.00" y="437.80" text-anchor="middle" fill="#e0691f" stroke="#e0691f" stroke-width="0.25" style="font-family:'Liberation Sans', sans-serif;font-size:10.5px;">ns</text>
<path d="M612.20,500.65L612.20,495.15M614.58,499.27L609.82,496.52M609.82,499.27L614.58,496.52M619.60,500.65L619.60,495.15M621.98,499.27L617.22,496.52M617.22,499.27L621.98,496.52M627.00,500.65L627.00,495.15M629.38,499.27L624.62,496.52M624.62,499.27L629.38,496.52M634.40,500.65L634.40,495.15M636.78,499.27L632.02,496.52M632.02,499.27L636.78,496.52" stroke="#3b7fc0" stroke-width="1.15" stroke-linecap="round" fill="none"/>
<text x="653.50" y="483.80" text-anchor="middle" fill="#e0691f" stroke="#e0691f" stroke-width="0.25" style="font-family:'Liberation Sans', sans-serif;font-size:10.5px;">ns</text>
<path d="M67.10,852.20V694.70H77.50V852.20" fill="none" stroke="#000" stroke-width="1.8"/>
<path d="M85.65,852.20V699.00H96.05V852.20" fill="none" stroke="#000" stroke-width="1.8"/>
<path d="M104.20,852.20V703.10H114.60V852.20" fill="none" stroke="#000" stroke-width="1.8"/>
<path d="M122.75,852.20V698.20H133.15V852.20" fill="none" stroke="#000" stroke-width="1.8"/>
<path d="M141.30,852.20V709.30H151.70V852.20" fill="none" stroke="#000" stroke-width="1.8"/>
<path d="M159.85,852.20V711.90H170.25V852.20" fill="none" stroke="#000" stroke-width="1.8"/>
<path d="M178.40,852.20V734.60H188.80V852.20" fill="none" stroke="#000" stroke-width="1.8"/>
<path d="M196.95,852.20V757.70H207.35V852.20" fill="none" stroke="#000" stroke-width="1.8"/>
<path d="M215.50,852.20V772.00H225.90V852.20" fill="none" stroke="#000" stroke-width="1.8"/>
<path d="M234.05,852.20V809.70H244.45V852.20" fill="none" stroke="#000" stroke-width="1.8"/>
<path d="M252.60,852.20V815.20H263.00V852.20" fill="none" stroke="#000" stroke-width="1.8"/>
<path d="M271.15,852.20V829.50H281.55V852.20" fill="none" stroke="#000" stroke-width="1.8"/>
<path d="M289.70,852.20V840.30H300.10V852.20" fill="none" stroke="#000" stroke-width="1.8"/>
<path d="M308.25,852.20V844.90H318.65V852.20" fill="none" stroke="#000" stroke-width="1.8"/>
<path d="M326.80,852.20V844.90H337.20V852.20" fill="none" stroke="#000" stroke-width="1.8"/>
<g fill="#4cb07c"><circle cx="72.50" cy="693.00" r="2.40"/></g>
<g fill="#3b7fc0"><path d="M87.00,694.75L90.40,701.00L83.60,701.00Z"/><path d="M90.00,692.25L93.40,698.50L86.60,698.50Z"/><path d="M93.00,693.75L96.40,700.00L89.60,700.00Z"/><path d="M96.00,694.25L99.40,700.50L92.60,700.50Z"/><path d="M89.00,695.75L92.40,702.00L85.60,702.00Z"/></g>
<path d="M109.40,686.50V703.00M106.30,686.50H112.50M106.30,703.00H112.50" stroke="#5d97cf" stroke-width="1.5" fill="none"/>
<g fill="#3b7fc0"><path d="M109.50,677.25L112.90,683.50L106.10,683.50Z"/><path d="M109.50,699.75L112.90,706.00L106.10,706.00Z"/><path d="M109.50,704.75L112.90,711.00L106.10,711.00Z"/><path d="M109.50,714.75L112.90,721.00L106.10,721.00Z"/></g>
<g fill="#3b7fc0"><path d="M128.00,686.75L131.40,693.00L124.60,693.00Z"/><path d="M128.00,691.25L131.40,697.50L124.60,697.50Z"/><path d="M124.00,697.25L127.40,703.50L120.60,703.50Z"/><path d="M132.00,697.25L135.40,703.50L128.60,703.50Z"/></g>
<path d="M146.50,688.00V708.80M143.40,688.00H149.60M143.40,708.80H149.60" stroke="#5d97cf" stroke-width="1.5" fill="none"/>
<g fill="#3b7fc0"><path d="M146.60,684.45L150.00,690.70L143.20,690.70Z"/><path d="M146.60,698.25L150.00,704.50L143.20,704.50Z"/><path d="M146.60,713.45L150.00,719.70L143.20,719.70Z"/><path d="M146.60,724.55L150.00,730.80L143.20,730.80Z"/></g>
<g fill="#3b7fc0"><path d="M161.00,707.75L164.40,714.00L157.60,714.00Z"/><path d="M164.00,705.75L167.40,712.00L160.60,712.00Z"/><path d="M167.00,705.75L170.40,712.00L163.60,712.00Z"/><path d="M170.00,707.75L173.40,714.00L166.60,714.00Z"/></g>
<g fill="#3b7fc0"><path d="M183.60,722.75L187.00,729.00L180.20,729.00Z"/><path d="M178.50,728.75L181.90,735.00L175.10,735.00Z"/><path d="M189.00,728.75L192.40,735.00L185.60,735.00Z"/><path d="M183.60,738.25L187.00,744.50L180.20,744.50Z"/></g>
<path d="M202.15,747.00V765.00M199.05,747.00H205.25M199.05,765.00H205.25" stroke="#5d97cf" stroke-width="1.5" fill="none"/>
<g fill="#3b7fc0"><path d="M202.50,743.25L205.90,749.50L199.10,749.50Z"/><path d="M202.50,755.75L205.90,762.00L199.10,762.00Z"/><path d="M206.50,754.75L209.90,761.00L203.10,761.00Z"/><path d="M202.50,760.25L205.90,766.50L199.10,766.50Z"/></g>
<path d="M220.70,757.00V781.00M217.60,757.00H223.80M217.60,781.00H223.80" stroke="#5d97cf" stroke-width="1.5" fill="none"/>
<g fill="#3b7fc0"><path d="M221.00,753.75L224.40,760.00L217.60,760.00Z"/><path d="M221.00,762.25L224.40,768.50L217.60,768.50Z"/><path d="M217.00,777.75L220.40,784.00L213.60,784.00Z"/><path d="M225.50,777.75L228.90,784.00L222.10,784.00Z"/></g>
<g fill="#3b7fc0"><path d="M235.00,802.75L238.40,809.00L231.60,809.00Z"/><path d="M243.50,802.75L246.90,809.00L240.10,809.00Z"/><path d="M239.40,806.75L242.80,813.00L236.00,813.00Z"/><path d="M239.40,810.75L242.80,817.00L236.00,817.00Z"/></g>
<g fill="#3b7fc0"><path d="M253.50,814.75L256.90,821.00L250.10,821.00Z"/><path d="M258.50,807.75L261.90,814.00L255.10,814.00Z"/><path d="M263.50,805.75L266.90,812.00L260.10,812.00Z"/><path d="M262.00,812.75L265.40,819.00L258.60,819.00Z"/></g>
<g fill="#3b7fc0"><path d="M272.00,827.75L275.40,834.00L268.60,834.00Z"/><path d="M276.50,823.75L279.90,830.00L273.10,830.00Z"/><path d="M280.50,821.75L283.90,828.00L277.10,828.00Z"/><path d="M280.00,828.75L283.40,835.00L276.60,835.00Z"/></g>
<g fill="#3b7fc0"><path d="M290.00,836.75L293.40,843.00L286.60,843.00Z"/><path d="M293.50,832.75L296.90,839.00L290.10,839.00Z"/><path d="M299.00,834.75L302.40,841.00L295.60,841.00Z"/><path d="M296.00,835.75L299.40,842.00L292.60,842.00Z"/></g>
<path d="M313.45,840.00V850.00M310.35,840.00H316.55M310.35,850.00H316.55" stroke="#5d97cf" stroke-width="1.5" fill="none"/>
<g fill="#3b7fc0"><path d="M309.50,836.75L312.90,843.00L306.10,843.00Z"/><path d="M315.00,840.75L318.40,847.00L311.60,847.00Z"/><path d="M318.00,842.75L321.40,849.00L314.60,849.00Z"/><path d="M313.50,846.75L316.90,853.00L310.10,853.00Z"/></g>
<path d="M332.00,840.00V850.00M328.90,840.00H335.10M328.90,850.00H335.10" stroke="#5d97cf" stroke-width="1.5" fill="none"/>
<g fill="#3b7fc0"><path d="M327.50,836.25L330.90,842.50L324.10,842.50Z"/><path d="M333.00,840.75L336.40,847.00L329.60,847.00Z"/><path d="M337.00,842.75L340.40,849.00L333.60,849.00Z"/><path d="M331.50,846.75L334.90,853.00L328.10,853.00Z"/></g>
<path d="M60.00,661.70V852.20M52.20,852.20H346.00" stroke="#000" stroke-width="2" fill="none" stroke-linecap="butt"/>
<path d="M52.00,852.20H60.00M52.00,820.45H60.00M52.00,788.70H60.00M52.00,756.95H60.00M52.00,725.20H60.00M52.00,693.45H60.00M52.00,661.70H60.00M72.30,852.20V859.70M90.85,852.20V859.70M109.40,852.20V859.70M127.95,852.20V859.70M146.50,852.20V859.70M165.05,852.20V859.70M183.60,852.20V859.70M202.15,852.20V859.70M220.70,852.20V859.70M239.25,852.20V859.70M257.80,852.20V859.70M276.35,852.20V859.70M294.90,852.20V859.70M313.45,852.20V859.70M332.00,852.20V859.70" stroke="#000" stroke-width="2" fill="none"/>
<text x="50.20" y="855.60" text-anchor="end" style="font-family:'Liberation Serif', serif;font-size:10.5px;font-weight:bold;">0</text>
<text x="50.20" y="823.85" text-anchor="end" style="font-family:'Liberation Serif', serif;font-size:10.5px;font-weight:bold;">20</text>
<text x="50.20" y="792.10" text-anchor="end" style="font-family:'Liberation Serif', serif;font-size:10.5px;font-weight:bold;">40</text>
<text x="50.20" y="760.35" text-anchor="end" style="font-family:'Liberation Serif', serif;font-size:10.5px;font-weight:bold;">60</text>
<text x="50.20" y="728.60" text-anchor="end" style="font-family:'Liberation Serif', serif;font-size:10.5px;font-weight:bold;">80</text>
<text x="50.20" y="696.85" text-anchor="end" style="font-family:'Liberation Serif', serif;font-size:10.5px;font-weight:bold;">100</text>
<text x="50.20" y="665.10" text-anchor="end" style="font-family:'Liberation Serif', serif;font-size:10.5px;font-weight:bold;">120</text>
<text transform="translate(24.00,759.20) rotate(-90)" text-anchor="middle" style="font-family:'Liberation Sans', sans-serif;font-size:15.8px;font-weight:bold;">A549 Cells Viability (%)</text>
<text transform="translate(74.90,870.50) rotate(-45)" text-anchor="end" style="font-family:'Liberation Sans', sans-serif;font-size:10.3px;font-weight:bold;">Control</text>
<text transform="translate(93.45,870.50) rotate(-45)" text-anchor="end" style="font-family:'Liberation Sans', sans-serif;font-size:10.3px;font-weight:bold;">0.25 μM</text>
<text transform="translate(112.00,870.50) rotate(-45)" text-anchor="end" style="font-family:'Liberation Sans', sans-serif;font-size:10.3px;font-weight:bold;">0.5 μM</text>
<text transform="translate(130.55,870.50) rotate(-45)" text-anchor="end" style="font-family:'Liberation Sans', sans-serif;font-size:10.3px;font-weight:bold;">1 μM</text>
<text transform="translate(149.10,870.50) rotate(-45)" text-anchor="end" style="font-family:'Liberation Sans', sans-serif;font-size:10.3px;font-weight:bold;">2 μM</text>
<text transform="translate(167.65,870.50) rotate(-45)" text-anchor="end" style="font-family:'Liberation Sans', sans-serif;font-size:10.3px;font-weight:bold;">4 μM</text>
<text transform="translate(186.20,870.50) rotate(-45)" text-anchor="end" style="font-family:'Liberation Sans', sans-serif;font-size:10.3px;font-weight:bold;">8 μM</text>
<text transform="translate(204.75,870.50) rotate(-45)" text-anchor="end" style="font-family:'Liberation Sans', sans-serif;font-size:10.3px;font-weight:bold;">16 μM</text>
<text transform="translate(223.30,870.50) rotate(-45)" text-anchor="end" style="font-family:'Liberation Sans', sans-serif;font-size:10.3px;font-weight:bold;">32 μM</text>
<text transform="translate(241.85,870.50) rotate(-45)" text-anchor="end" style="font-family:'Liberation Sans', sans-serif;font-size:10.3px;font-weight:bold;">64 μM</text>
<text transform="translate(260.40,870.50) rotate(-45)" text-anchor="end" style="font-family:'Liberation Sans', sans-serif;font-size:10.3px;font-weight:bold;">128 μM</text>
<text transform="translate(278.95,870.50) rotate(-45)" text-anchor="end" style="font-family:'Liberation Sans', sans-serif;font-size:10.3px;font-weight:bold;">256 μM</text>
<text transform="translate(297.50,870.50) rotate(-45)" text-anchor="end" style="font-family:'Liberation Sans', sans-serif;font-size:10.3px;font-weight:bold;">512 μM</text>
<text transform="translate(316.05,870.50) rotate(-45)" text-anchor="end" style="font-family:'Liberation Sans', sans-serif;font-size:10.3px;font-weight:bold;">1024 μM</text>
<text transform="translate(334.60,870.50) rotate(-45)" text-anchor="end" style="font-family:'Liberation Sans', sans-serif;font-size:10.3px;font-weight:bold;">2048 μM</text>
<path d="M88.20,679.11L88.94,680.19L90.20,680.56L89.40,681.60L89.43,682.91L88.20,682.47L86.97,682.91L87.00,681.60L86.20,680.56L87.46,680.19ZM92.80,679.11L93.54,680.19L94.80,680.56L94.00,681.60L94.03,682.91L92.80,682.47L91.57,682.91L91.60,681.60L90.80,680.56L92.06,680.19Z" fill="#000"/>
<text x="109.50" y="673.70" text-anchor="middle" fill="#000" stroke="#000" stroke-width="0" style="font-family:'Liberation Sans', sans-serif;font-size:10px;">ns</text>
<text x="128.00" y="681.70" text-anchor="middle" fill="#000" stroke="#000" stroke-width="0" style="font-family:'Liberation Sans', sans-serif;font-size:10px;">ns</text>
<text x="146.50" y="679.70" text-anchor="middle" fill="#000" stroke="#000" stroke-width="0" style="font-family:'Liberation Sans', sans-serif;font-size:10px;">ns</text>
<path d="M160.40,695.41L161.14,696.49L162.40,696.86L161.60,697.90L161.63,699.21L160.40,698.77L159.17,699.21L159.20,697.90L158.40,696.86L159.66,696.49ZM165.00,695.41L165.74,696.49L167.00,696.86L166.20,697.90L166.23,699.21L165.00,698.77L163.77,699.21L163.80,697.90L163.00,696.86L164.26,696.49ZM169.60,695.41L170.34,696.49L171.60,696.86L170.80,697.90L170.83,699.21L169.60,698.77L168.37,699.21L168.40,697.90L167.60,696.86L168.86,696.49Z" fill="#000"/>
<path d="M178.40,715.31L179.14,716.39L180.40,716.76L179.60,717.80L179.63,719.11L178.40,718.67L177.17,719.11L177.20,717.80L176.40,716.76L177.66,716.39ZM183.00,715.31L183.74,716.39L185.00,716.76L184.20,717.80L184.23,719.11L183.00,718.67L181.77,719.11L181.80,717.80L181.00,716.76L182.26,716.39ZM187.60,715.31L188.34,716.39L189.60,716.76L188.80,717.80L188.83,719.11L187.60,718.67L186.37,719.11L186.40,717.80L185.60,716.76L186.86,716.39Z" fill="#000"/>
<path d="M197.40,738.11L198.14,739.19L199.40,739.56L198.60,740.60L198.63,741.91L197.40,741.47L196.17,741.91L196.20,740.60L195.40,739.56L196.66,739.19ZM202.00,738.11L202.74,739.19L204.00,739.56L203.20,740.60L203.23,741.91L202.00,741.47L200.77,741.91L200.80,740.60L200.00,739.56L201.26,739.19ZM206.60,738.11L207.34,739.19L208.60,739.56L207.80,740.60L207.83,741.91L206.60,741.47L205.37,741.91L205.40,740.60L204.60,739.56L205.86,739.19Z" fill="#000"/>
<path d="M214.60,743.61L215.34,744.69L216.60,745.06L215.80,746.10L215.83,747.41L214.60,746.97L213.37,747.41L213.40,746.10L212.60,745.06L213.86,744.69ZM219.20,743.61L219.94,744.69L221.20,745.06L220.40,746.10L220.43,747.41L219.20,746.97L217.97,747.41L218.00,746.10L217.20,745.06L218.46,744.69ZM223.80,743.61L224.54,744.69L225.80,745.06L225.00,746.10L225.03,747.41L223.80,746.97L222.57,747.41L222.60,746.10L221.80,745.06L223.06,744.69ZM228.40,743.61L229.14,744.69L230.40,745.06L229.60,746.10L229.63,747.41L228.40,746.97L227.17,747.41L227.20,746.10L226.40,745.06L227.66,744.69Z" fill="#000"/>
<path d="M232.10,793.81L232.84,794.89L234.10,795.26L233.30,796.30L233.33,797.61L232.10,797.17L230.87,797.61L230.90,796.30L230.10,795.26L231.36,794.89ZM236.70,793.81L237.44,794.89L238.70,795.26L237.90,796.30L237.93,797.61L236.70,797.17L235.47,797.61L235.50,796.30L234.70,795.26L235.96,794.89ZM241.30,793.81L242.04,794.89L243.30,795.26L242.50,796.30L242.53,797.61L241.30,797.17L240.07,797.61L240.10,796.30L239.30,795.26L240.56,794.89ZM245.90,793.81L246.64,794.89L247.90,795.26L247.10,796.30L247.13,797.61L245.90,797.17L244.67,797.61L244.70,796.30L243.90,795.26L245.16,794.89Z" fill="#000"/>
<path d="M251.10,797.81L251.84,798.89L253.10,799.26L252.30,800.30L252.33,801.61L251.10,801.17L249.87,801.61L249.90,800.30L249.10,799.26L250.36,798.89ZM255.70,797.81L256.44,798.89L257.70,799.26L256.90,800.30L256.93,801.61L255.70,801.17L254.47,801.61L254.50,800.30L253.70,799.26L254.96,798.89ZM260.30,797.81L261.04,798.89L262.30,799.26L261.50,800.30L261.53,801.61L260.30,801.17L259.07,801.61L259.10,800.30L258.30,799.26L259.56,798.89ZM264.90,797.81L265.64,798.89L266.90,799.26L266.10,800.30L266.13,801.61L264.90,801.17L263.67,801.61L263.70,800.30L262.90,799.26L264.16,798.89Z" fill="#000"/>
<path d="M269.10,812.31L269.84,813.39L271.10,813.76L270.30,814.80L270.33,816.11L269.10,815.67L267.87,816.11L267.90,814.80L267.10,813.76L268.36,813.39ZM273.70,812.31L274.44,813.39L275.70,813.76L274.90,814.80L274.93,816.11L273.70,815.67L272.47,816.11L272.50,814.80L271.70,813.76L272.96,813.39ZM278.30,812.31L279.04,813.39L280.30,813.76L279.50,814.80L279.53,816.11L278.30,815.67L277.07,816.11L277.10,814.80L276.30,813.76L277.56,813.39ZM282.90,812.31L283.64,813.39L284.90,813.76L284.10,814.80L284.13,816.11L282.90,815.67L281.67,816.11L281.70,814.80L280.90,813.76L282.16,813.39Z" fill="#000"/>
<path d="M288.10,822.61L288.84,823.69L290.10,824.06L289.30,825.10L289.33,826.41L288.10,825.97L286.87,826.41L286.90,825.10L286.10,824.06L287.36,823.69ZM292.70,822.61L293.44,823.69L294.70,824.06L293.90,825.10L293.93,826.41L292.70,825.97L291.47,826.41L291.50,825.10L290.70,824.06L291.96,823.69ZM297.30,822.61L298.04,823.69L299.30,824.06L298.50,825.10L298.53,826.41L297.30,825.97L296.07,826.41L296.10,825.10L295.30,824.06L296.56,823.69ZM301.90,822.61L302.64,823.69L303.90,824.06L303.10,825.10L303.13,826.41L301.90,825.97L300.67,826.41L300.70,825.10L299.90,824.06L301.16,823.69Z" fill="#000"/>
<path d="M305.60,827.01L306.34,828.09L307.60,828.46L306.80,829.50L306.83,830.81L305.60,830.37L304.37,830.81L304.40,829.50L303.60,828.46L304.86,828.09ZM310.20,827.01L310.94,828.09L312.20,828.46L311.40,829.50L311.43,830.81L310.20,830.37L308.97,830.81L309.00,829.50L308.20,828.46L309.46,828.09ZM314.80,827.01L315.54,828.09L316.80,828.46L316.00,829.50L316.03,830.81L314.80,830.37L313.57,830.81L313.60,829.50L312.80,828.46L314.06,828.09ZM319.40,827.01L320.14,828.09L321.40,828.46L320.60,829.50L320.63,830.81L319.40,830.37L318.17,830.81L318.20,829.50L317.40,828.46L318.66,828.09Z" fill="#000"/>
<path d="M325.10,828.51L325.84,829.59L327.10,829.96L326.30,831.00L326.33,832.31L325.10,831.87L323.87,832.31L323.90,831.00L323.10,829.96L324.36,829.59ZM329.70,828.51L330.44,829.59L331.70,829.96L330.90,831.00L330.93,832.31L329.70,831.87L328.47,832.31L328.50,831.00L327.70,829.96L328.96,829.59ZM334.30,828.51L335.04,829.59L336.30,829.96L335.50,831.00L335.53,832.31L334.30,831.87L333.07,832.31L333.10,831.00L332.30,829.96L333.56,829.59ZM338.90,828.51L339.64,829.59L340.90,829.96L340.10,831.00L340.13,832.31L338.90,831.87L337.67,832.31L337.70,831.00L336.90,829.96L338.16,829.59Z" fill="#000"/>
<path d="M431.35,852.00V706.05H449.45V852.00" fill="none" stroke="#000" stroke-width="1.9"/>
<path d="M463.11,852.00V721.65H481.21V852.00" fill="none" stroke="#000" stroke-width="1.9"/>
<path d="M494.87,852.00V743.15H512.97V852.00" fill="none" stroke="#000" stroke-width="1.9"/>
<path d="M526.63,852.00V748.55H544.73V852.00" fill="none" stroke="#000" stroke-width="1.9"/>
<path d="M558.39,852.00V787.65H576.49V852.00" fill="none" stroke="#000" stroke-width="1.9"/>
<path d="M590.15,852.00V781.55H608.25V852.00" fill="none" stroke="#000" stroke-width="1.9"/>
<path d="M621.91,852.00V823.45H640.01V852.00" fill="none" stroke="#000" stroke-width="1.9"/>
<path d="M653.67,852.00V792.45H671.77V852.00" fill="none" stroke="#000" stroke-width="1.9"/>
<g fill="#4cb07c"><circle cx="431.50" cy="705.40" r="1.90"/><circle cx="437.50" cy="705.40" r="1.90"/><circle cx="443.50" cy="705.40" r="1.90"/><circle cx="449.50" cy="705.40" r="1.90"/></g>
<path d="M472.16,716.50V723.50M468.16,716.50H476.16M468.16,723.50H476.16" stroke="#e0691f" stroke-width="1.3" fill="none"/>
<g fill="#e0691f"><rect x="469.95" y="713.45" width="4.10" height="4.10"/><rect x="469.95" y="719.45" width="4.10" height="4.10"/><rect x="462.95" y="721.75" width="4.10" height="4.10"/><rect x="477.45" y="720.45" width="4.10" height="4.10"/></g>
<path d="M503.92,726.00V758.00M499.92,726.00H507.92M499.92,758.00H507.92" stroke="#3b7fc0" stroke-width="1.3" fill="none"/>
<g fill="#3b7fc0"><path d="M504.00,719.80L506.30,724.03L501.70,724.03Z"/><path d="M504.00,735.30L506.30,739.53L501.70,739.53Z"/><path d="M504.00,748.30L506.30,752.53L501.70,752.53Z"/><path d="M504.00,755.80L506.30,760.03L501.70,760.03Z"/></g>
<path d="M535.68,735.50V759.00M531.68,735.50H539.68M531.68,759.00H539.68" stroke="#e0691f" stroke-width="1.3" fill="none"/>
<g fill="#e0691f"><rect x="533.65" y="727.95" width="4.10" height="4.10"/><rect x="533.65" y="748.95" width="4.10" height="4.10"/><rect x="526.25" y="753.45" width="4.10" height="4.10"/><rect x="540.45" y="750.45" width="4.10" height="4.10"/></g>
<path d="M567.44,780.50V791.00M563.44,780.50H571.44M563.44,791.00H571.44" stroke="#3b7fc0" stroke-width="1.3" fill="none"/>
<g fill="#3b7fc0"><path d="M567.50,775.30L569.80,779.53L565.20,779.53Z"/><path d="M560.50,788.30L562.80,792.53L558.20,792.53Z"/><path d="M567.50,785.80L569.80,790.03L565.20,790.03Z"/><path d="M575.00,785.80L577.30,790.03L572.70,790.03Z"/></g>
<path d="M599.20,770.00V789.00M595.20,770.00H603.20M595.20,789.00H603.20" stroke="#e0691f" stroke-width="1.3" fill="none"/>
<g fill="#e0691f"><rect x="596.95" y="763.95" width="4.10" height="4.10"/><rect x="596.95" y="777.45" width="4.10" height="4.10"/><rect x="603.95" y="782.95" width="4.10" height="4.10"/><rect x="596.95" y="787.45" width="4.10" height="4.10"/></g>
<path d="M630.96,813.00V830.00M626.96,813.00H634.96M626.96,830.00H634.96" stroke="#3b7fc0" stroke-width="1.3" fill="none"/>
<g fill="#3b7fc0"><path d="M631.00,814.30L633.30,818.53L628.70,818.53Z"/><path d="M638.00,812.80L640.30,817.03L635.70,817.03Z"/><path d="M631.00,822.30L633.30,826.53L628.70,826.53Z"/><path d="M631.00,831.30L633.30,835.53L628.70,835.53Z"/></g>
<path d="M662.72,781.50V797.00M658.72,781.50H666.72M658.72,797.00H666.72" stroke="#e0691f" stroke-width="1.3" fill="none"/>
<g fill="#e0691f"><rect x="660.45" y="780.45" width="4.10" height="4.10"/><rect x="666.95" y="780.45" width="4.10" height="4.10"/><rect x="660.45" y="793.95" width="4.10" height="4.10"/></g>
<path d="M419.70,676.00V852.00M412.80,852.00H685.00" stroke="#000" stroke-width="2" fill="none" stroke-linecap="butt"/>
<path d="M412.70,852.00H419.70M412.70,822.67H419.70M412.70,793.33H419.70M412.70,764.00H419.70M412.70,734.66H419.70M412.70,705.33H419.70M412.70,676.00H419.70M440.40,852.00V859.50M472.16,852.00V859.50M503.92,852.00V859.50M535.68,852.00V859.50M567.44,852.00V859.50M599.20,852.00V859.50M630.96,852.00V859.50M662.72,852.00V859.50" stroke="#000" stroke-width="2" fill="none"/>
<text x="410.50" y="856.50" text-anchor="end" style="font-family:'Liberation Sans', sans-serif;font-size:13.2px;font-weight:bold;">0</text>
<text x="410.50" y="827.17" text-anchor="end" style="font-family:'Liberation Sans', sans-serif;font-size:13.2px;font-weight:bold;">20</text>
<text x="410.50" y="797.83" text-anchor="end" style="font-family:'Liberation Sans', sans-serif;font-size:13.2px;font-weight:bold;">40</text>
<text x="410.50" y="768.50" text-anchor="end" style="font-family:'Liberation Sans', sans-serif;font-size:13.2px;font-weight:bold;">60</text>
<text x="410.50" y="739.16" text-anchor="end" style="font-family:'Liberation Sans', sans-serif;font-size:13.2px;font-weight:bold;">80</text>
<text x="410.50" y="709.83" text-anchor="end" style="font-family:'Liberation Sans', sans-serif;font-size:13.2px;font-weight:bold;">100</text>
<text x="410.50" y="680.50" text-anchor="end" style="font-family:'Liberation Sans', sans-serif;font-size:13.2px;font-weight:bold;">120</text>
<text transform="translate(376.00,764.20) rotate(-90)" text-anchor="middle" style="font-family:'Liberation Sans', sans-serif;font-size:14.65px;font-weight:bold;">A549 Cells Viability (%)</text>
<text transform="translate(444.90,872.80) rotate(-45)" text-anchor="end" style="font-family:'Liberation Sans', sans-serif;font-size:13.5px;font-weight:bold;">Control</text>
<text transform="translate(476.66,872.80) rotate(-45)" text-anchor="end" style="font-family:'Liberation Sans', sans-serif;font-size:13.5px;font-weight:bold;">EE80</text>
<text transform="translate(508.42,872.80) rotate(-45)" text-anchor="end" style="font-family:'Liberation Sans', sans-serif;font-size:13.5px;font-weight:bold;">Cis16</text>
<text transform="translate(540.18,872.80) rotate(-45)" text-anchor="end" style="font-family:'Liberation Sans', sans-serif;font-size:13.5px;font-weight:bold;">Cis16+EE</text>
<text transform="translate(571.94,872.80) rotate(-45)" text-anchor="end" style="font-family:'Liberation Sans', sans-serif;font-size:13.5px;font-weight:bold;">Cis32</text>
<text transform="translate(603.70,872.80) rotate(-45)" text-anchor="end" style="font-family:'Liberation Sans', sans-serif;font-size:13.5px;font-weight:bold;">Cis32+EE</text>
<text transform="translate(635.46,872.80) rotate(-45)" text-anchor="end" style="font-family:'Liberation Sans', sans-serif;font-size:13.5px;font-weight:bold;">Cis64</text>
<text transform="translate(667.22,872.80) rotate(-45)" text-anchor="end" style="font-family:'Liberation Sans', sans-serif;font-size:13.5px;font-weight:bold;">Cis64+EE</text>
<text x="472.50" y="710.90" text-anchor="middle" fill="#e0691f" stroke="#e0691f" stroke-width="0.45" style="font-family:'Liberation Sans', sans-serif;font-size:10.5px;">##</text>
<path d="M504.00,715.15L504.00,709.65M506.38,713.77L501.62,711.02M501.62,713.77L506.38,711.02" stroke="#3b7fc0" stroke-width="1.15" stroke-linecap="round" fill="none"/>
<text x="535.00" y="722.30" text-anchor="middle" fill="#e0691f" stroke="#e0691f" stroke-width="0.25" style="font-family:'Liberation Sans', sans-serif;font-size:10.5px;">ns</text>
<path d="M556.50,771.95L556.50,766.45M558.88,770.58L554.12,767.83M554.12,770.58L558.88,767.83M563.90,771.95L563.90,766.45M566.28,770.58L561.52,767.83M561.52,770.58L566.28,767.83M571.30,771.95L571.30,766.45M573.68,770.58L568.92,767.83M568.92,770.58L573.68,767.83M578.70,771.95L578.70,766.45M581.08,770.58L576.32,767.83M576.32,770.58L581.08,767.83" stroke="#3b7fc0" stroke-width="1.15" stroke-linecap="round" fill="none"/>
<text x="599.00" y="760.30" text-anchor="middle" fill="#e0691f" stroke="#e0691f" stroke-width="0.25" style="font-family:'Liberation Sans', sans-serif;font-size:10.5px;">ns</text>
<path d="M620.20,807.15L620.20,801.65M622.58,805.77L617.82,803.02M617.82,805.77L622.58,803.02M627.60,807.15L627.60,801.65M629.98,805.77L625.22,803.02M625.22,805.77L629.98,803.02M635.00,807.15L635.00,801.65M637.38,805.77L632.62,803.02M632.62,805.77L637.38,803.02M642.40,807.15L642.40,801.65M644.78,805.77L640.02,803.02M640.02,805.77L644.78,803.02" stroke="#3b7fc0" stroke-width="1.15" stroke-linecap="round" fill="none"/>
<text x="662.20" y="776.00" text-anchor="middle" fill="#e0691f" stroke="#e0691f" stroke-width="0.45" style="font-family:'Liberation Sans', sans-serif;font-size:10.5px;">#</text>
<text x="662.00" y="804.30" text-anchor="middle" fill="#e0691f" stroke="#e0691f" stroke-width="0.25" style="font-family:'Liberation Sans', sans-serif;font-size:10.5px;">ns</text>
<text x="-0.2" y="10.6" style="font-family:'Liberation Sans', sans-serif;font-size:14.5px;">a</text>
<text x="344.3" y="11.0" style="font-family:'Liberation Sans', sans-serif;font-size:14.5px;">b</text>
<text x="6.2" y="310.1" style="font-family:'Liberation Sans', sans-serif;font-size:14.5px;">c</text>
<text x="343.9" y="314.0" style="font-family:'Liberation Sans', sans-serif;font-size:14.5px;">d</text>
<text x="5.8" y="625.6" style="font-family:'Liberation Sans', sans-serif;font-size:14.5px;">e</text>
<text x="345.8" y="624.6" style="font-family:'Liberation Sans', sans-serif;font-size:14.5px;">f</text>
</svg>
</body></html>
